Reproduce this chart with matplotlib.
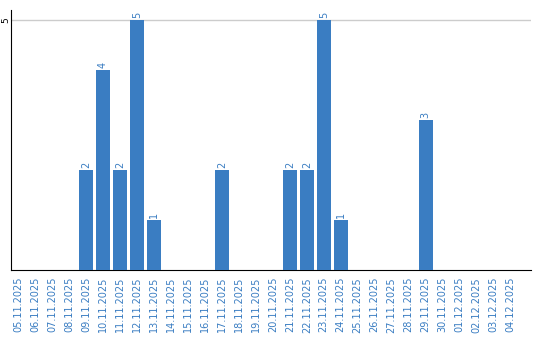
import matplotlib
matplotlib.use("Agg")
import matplotlib.pyplot as plt

dates = ["05.11.2025", "06.11.2025", "07.11.2025", "08.11.2025", "09.11.2025",
         "10.11.2025", "11.11.2025", "12.11.2025", "13.11.2025", "14.11.2025",
         "15.11.2025", "16.11.2025", "17.11.2025", "18.11.2025", "19.11.2025",
         "20.11.2025", "21.11.2025", "22.11.2025", "23.11.2025", "24.11.2025",
         "25.11.2025", "26.11.2025", "27.11.2025", "28.11.2025", "29.11.2025",
         "30.11.2025", "01.12.2025", "02.12.2025", "03.12.2025", "04.12.2025"]
values = [0, 0, 0, 0, 2, 4, 2, 5, 1, 0, 0, 0, 2, 0, 0, 0, 2, 2, 5, 1,
          0, 0, 0, 0, 3, 0, 0, 0, 0, 0]

blue = "#3a7dc2"
fig = plt.figure(figsize=(5.4, 3.4), dpi=100)
W, H = 540, 340
ax = fig.add_axes([11 / W, 1 - 270 / H, (531 - 11) / W, (270 - 10) / H])
x = list(range(len(dates)))
ax.bar(x, values, width=0.82, color=blue, zorder=3)
for xi, v in zip(x, values):
    if v > 0:
        ax.text(xi, v + 0.04, str(v), rotation=90, ha="center", va="bottom",
                color=blue, fontsize=7)
ax.set_xlim(-0.41, 30.2)
ax.set_ylim(0, 5.2)
ax.set_yticks([5])
ax.set_yticklabels(["5"], rotation=90, va="center", fontsize=6.5)
ax.axhline(5, color="#cccccc", lw=1, zorder=1)
ax.set_xticks(x)
ax.set_xticklabels(dates, rotation=90, color=blue, fontsize=7)
ax.tick_params(axis="x", length=0, pad=5)
ax.tick_params(axis="y", length=0, pad=0.5)
for s in ["top", "right"]:
    ax.spines[s].set_visible(False)
ax.spines["left"].set_color("black")
ax.spines["bottom"].set_color("black")
fig.savefig("out.png", dpi=100)
